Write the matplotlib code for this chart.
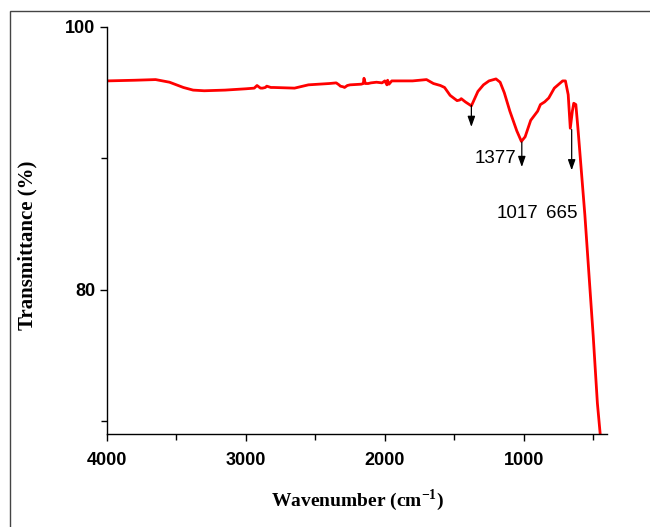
import numpy as np
import matplotlib.pyplot as plt
from matplotlib.patches import Rectangle
from matplotlib.ticker import MultipleLocator

plt.rcParams['mathtext.fontset'] = 'custom'
plt.rcParams['mathtext.rm'] = 'Liberation Serif'
plt.rcParams['mathtext.bf'] = 'Liberation Serif:bold'

# FTIR spectrum (wavenumber in cm-1, transmittance in %)
wavenumber = [4000, 3800, 3650, 3550, 3450, 3380, 3300, 3150, 3000, 2940, 2920, 2895,
              2880, 2860, 2850, 2820, 2800, 2650, 2550, 2400, 2350, 2330, 2320, 2300,
              2290, 2270, 2250, 2170, 2155, 2150, 2140, 2120, 2100, 2060, 2020, 2000,
              1985, 1980, 1970, 1950, 1900, 1800, 1700, 1650, 1600, 1570, 1530, 1480,
              1460, 1450, 1420, 1377, 1330, 1290, 1250, 1200, 1170, 1140, 1100, 1050,
              1017, 990, 950, 900, 880, 850, 820, 780, 720, 700, 680, 665, 650, 640,
              625, 610, 560, 500, 470, 445]
transmittance = [95.9, 95.95, 96.0, 95.8, 95.4, 95.2, 95.15, 95.2, 95.3, 95.35, 95.55, 95.35,
                 95.35, 95.4, 95.5, 95.4, 95.4, 95.35, 95.6, 95.7, 95.75, 95.6, 95.5, 95.45,
                 95.4, 95.55, 95.6, 95.65, 95.7, 96.1, 95.7, 95.7, 95.75, 95.8, 95.75, 95.9,
                 95.6, 95.95, 95.65, 95.9, 95.9, 95.9, 96.0, 95.7, 95.55, 95.4, 94.8, 94.4,
                 94.45, 94.55, 94.3, 94.0, 95.1, 95.6, 95.9, 96.05, 95.8, 95.0, 93.6, 92.1,
                 91.3, 91.65, 92.9, 93.6, 94.1, 94.3, 94.6, 95.35, 95.9, 95.9, 94.85, 92.3,
                 93.6, 94.2, 94.1, 92.3, 85.7, 76.5, 71.4, 68.5]

# marked peaks: arrow position, arrow start/end, label position
peak_labels = ['1377', '1017', '665']
peak_x = [1377, 1014, 655]
arrow_top = [94.05, 91.25, 92.2]
arrow_bottom = [92.4, 89.35, 89.1]
label_x = [1205, 1047, 727]
label_y = [90.0, 85.85, 85.85]

fig = plt.figure(figsize=(6.5, 5.27), dpi=100)
# thin frame around the whole figure (runs off right and bottom edges)
fig.patches.append(Rectangle((10 / 650, -0.1), 1.2, 1 - 11 / 527 + 0.1,
                             transform=fig.transFigure, fill=False,
                             edgecolor='#444444', linewidth=1.0))

ax = fig.add_axes([0.1646, 0.1765, 0.934 - 0.1646, 0.9488 - 0.1765])
ax.plot(wavenumber, transmittance, color='#ff0000', linewidth=2.0)

for lab, px, y0, y1, lx, ly in zip(peak_labels, peak_x, arrow_top, arrow_bottom, label_x, label_y):
    ax.annotate('', xy=(px, y1), xytext=(px, y0),
                arrowprops=dict(arrowstyle='-|>,head_length=0.45,head_width=0.16',
                                color='black', lw=0.9,
                                mutation_scale=14, shrinkA=0, shrinkB=0))
    ax.text(lx, ly, lab, ha='center', va='center', fontsize=13.5,
            family='Liberation Sans')

ax.set_xlim(4000, 400)
ax.set_ylim(69.05, 100)
ax.xaxis.set_major_locator(MultipleLocator(1000))
ax.xaxis.set_minor_locator(MultipleLocator(500))
ax.yaxis.set_major_locator(MultipleLocator(20))
ax.yaxis.set_minor_locator(MultipleLocator(10))

for side in ['top', 'right']:
    ax.spines[side].set_visible(False)
for side in ['left', 'bottom']:
    ax.spines[side].set_linewidth(1.0)

ax.tick_params(which='both', direction='out', width=1.0)
ax.tick_params(which='major', length=5)
ax.tick_params(which='minor', length=4)
ax.tick_params(axis='x', pad=8)
for t in ax.get_xticklabels() + ax.get_yticklabels():
    t.set_family('Liberation Sans')
    t.set_fontweight('bold')
    t.set_fontsize(13)

# axis titles placed where they sit in the original
fig.text(358 / 650, 1 - 500 / 527, 'Wavenumber (cm$^{\\mathbf{-1}}$)',
         family='Liberation Serif', fontweight='bold', fontsize=14,
         ha='center', va='center')
fig.text(27 / 650, 1 - 245 / 527, 'Transmittance (%)', rotation=90,
         family='Liberation Serif', fontweight='bold', fontsize=15,
         ha='center', va='center')

fig.savefig('out.png', dpi=100)
